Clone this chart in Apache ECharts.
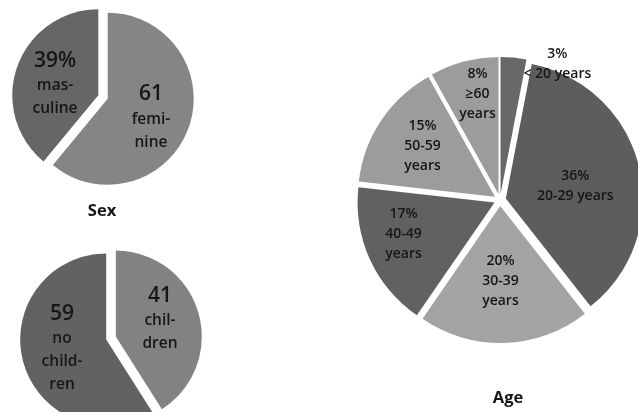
<!DOCTYPE html>
<html>
<head>
<meta charset="utf-8">
<script src="https://cdn.jsdelivr.net/npm/echarts@6/dist/echarts.min.js"></script>
<style>
  html, body { margin: 0; padding: 0; background: #fff; }
  #main { width: 638px; height: 412px; }
</style>
</head>
<body>
<div id="main"></div>
<script>
// sex
var sexNames = ['feminine', 'masculine']
var sexValues = [61, 39]
var sexLabels = ['61', '39%']
var sexWords = ['femi-\nnine', 'mas-\nculine']
var sexColors = ['#858585', '#666666']

// children
var kidNames = ['children', 'no children']
var kidValues = [41, 59]
var kidLabels = ['41', '59']
var kidWords = ['chil-\ndren', 'no\nchild-\nren']
var kidColors = ['#828282', '#626262']

// age
var ageNames = ['< 20 years', '20-29 years', '30-39 years', '40-49 years', '50-59 years', '≥60 years']
var ageValues = [3, 36, 20, 17, 15, 8]
var ageWords = ['< 20 years', '20-29 years', '30-39\nyears', '40-49\nyears', '50-59\nyears', '≥60\nyears']
var ageColors = ['#686868', '#5d5d5d', '#a3a3a3', '#616161', '#9c9c9c', '#9c9c9c']
// label nudges (dx, dy) so text sits where the original had it
var ageNudge = [[50, -59], [0, 4], [-2, 4], [-26, 2], [-13, -11], [-3, -31]]

var font = '"Open Sans", Lato, sans-serif'
var txt = '#161616'

function bigRich () {
  return {
    n: { fontFamily: font, fontSize: 21, fontWeight: 600, color: txt, lineHeight: 27 },
    w: { fontFamily: font, fontSize: 15.5, fontWeight: 600, color: txt, lineHeight: 23 }
  }
}

function pieData (names, values, colors, labelFn) {
  return names.map(function (n, i) {
    return {
      name: n,
      value: values[i],
      selected: true,
      itemStyle: { color: colors[i] },
      label: { formatter: labelFn(i) }
    }
  })
}

function twoPart (nums, words) {
  return function (i) {
    return '{n|' + nums[i] + '}\n' + words[i].split('\n').map(function (s) { return '{w|' + s + '}' }).join('\n')
  }
}

var chart = echarts.init(document.getElementById('main'))

var option = {
  animation: false,
  backgroundColor: '#fff',
  title: [
    { text: 'Sex', left: 97, top: 198, textAlign: 'center',
      textStyle: { fontFamily: font, fontSize: 16.5, fontWeight: 'bold', color: txt } },
    { text: 'Age', left: 503, top: 385, textAlign: 'center',
      textStyle: { fontFamily: font, fontSize: 16.5, fontWeight: 'bold', color: txt } }
  ],
  series: [
    {
      type: 'pie',
      center: [103, 97],
      radius: 86,
      startAngle: 90,
      selectedMode: 'multiple',
      selectedOffset: 5,
      emphasis: { disabled: true },
      label: { position: 'inside', rich: bigRich(), align: 'center' },
      labelLine: { show: false },
      labelLayout: function (p) {
        return { dy: p.dataIndex === 0 ? 3 : 4 }
      },
      data: pieData(sexNames, sexValues, sexColors, twoPart(sexLabels, sexWords))
    },
    {
      type: 'pie',
      center: [111, 338],
      radius: 86,
      startAngle: 90,
      selectedMode: 'multiple',
      selectedOffset: 5,
      emphasis: { disabled: true },
      label: { position: 'inside', rich: bigRich(), align: 'center' },
      labelLine: { show: false },
      labelLayout: function (p) {
        return { dy: p.dataIndex === 0 ? -5 : -4 }
      },
      data: pieData(kidNames, kidValues, kidColors, twoPart(kidLabels, kidWords))
    },
    {
      type: 'pie',
      center: [500, 200],
      radius: 137,
      startAngle: 90,
      selectedMode: 'multiple',
      selectedOffset: 6,
      emphasis: { disabled: true },
      label: {
        position: 'inside',
        fontFamily: font,
        fontSize: 14,
        fontWeight: 600,
        lineHeight: 20,
        color: txt,
        align: 'center'
      },
      labelLine: { show: false },
      labelLayout: function (p) {
        var d = ageNudge[p.dataIndex]
        return { dx: d[0], dy: d[1] }
      },
      data: pieData(ageNames, ageValues, ageColors, function (i) {
        return ageValues[i] + '%\n' + ageWords[i]
      })
    }
  ]
}

chart.setOption(option)
</script>
</body>
</html>
